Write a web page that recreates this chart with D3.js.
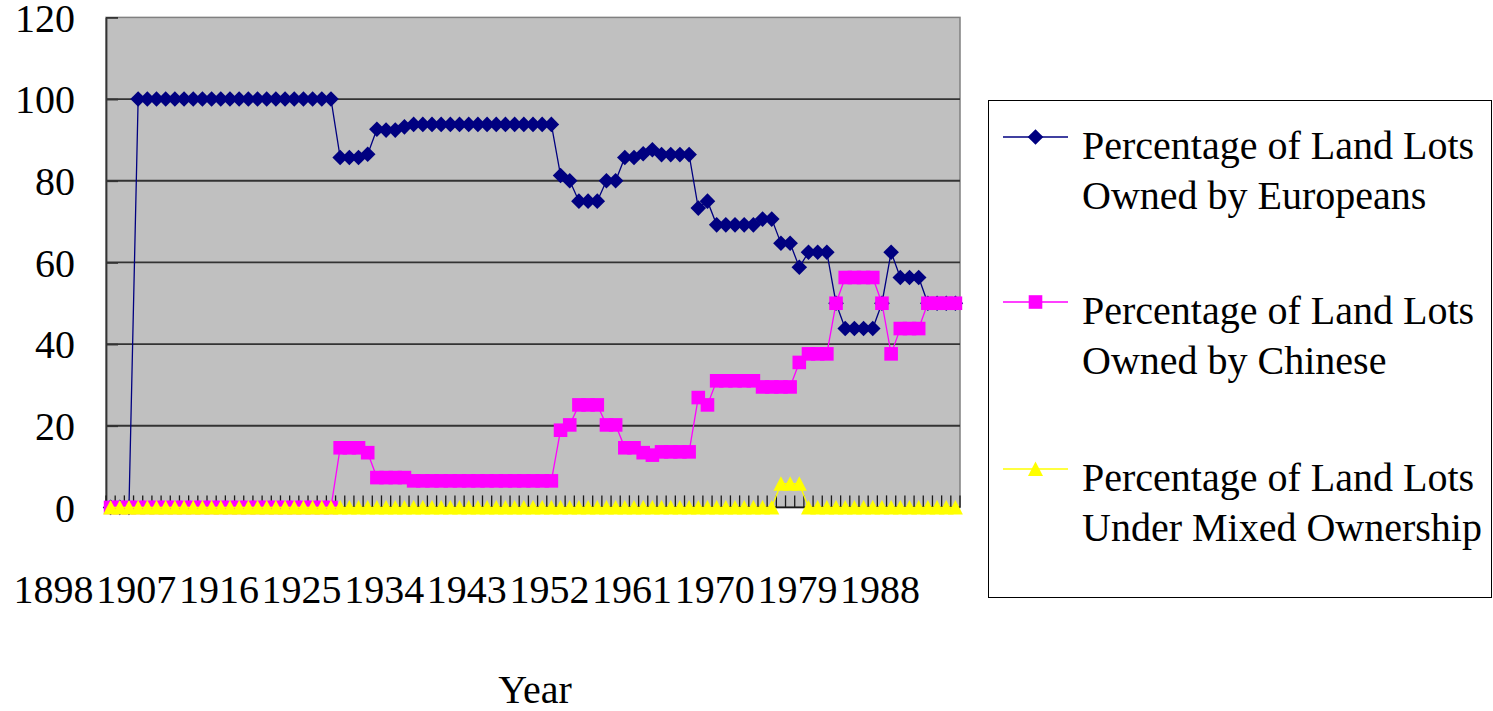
<!DOCTYPE html>
<html>
<head>
<meta charset="utf-8">
<script src="https://cdn.jsdelivr.net/npm/d3@7/dist/d3.min.js"></script>
<style>
  html, body { margin: 0; padding: 0; background: #fff; }
  svg { display: block; }
  text { font-family: "Liberation Serif", "Times New Roman", serif; fill: #000; }
</style>
</head>
<body>
<svg id="chart" width="1493" height="711"></svg>
<script>
// ---- data ----
const years = [1898,1899,1900,1901,1902,1903,1904,1905,1906,1907,1908,1909,1910,1911,1912,1913,1914,1915,1916,1917,1918,1919,1920,1921,1922,1923,1924,1925,1926,1927,1928,1929,1930,1931,1932,1933,1934,1935,1936,1937,1938,1939,1940,1941,1942,1943,1944,1945,1946,1947,1948,1949,1950,1951,1952,1953,1954,1955,1956,1957,1958,1959,1960,1961,1962,1963,1964,1965,1966,1967,1968,1969,1970,1971,1972,1973,1974,1975,1976,1977,1978,1979,1980,1981,1982,1983,1984,1985,1986,1987,1988,1989,1990];

const europeans = [0,0,0,
  100,100,100,100,100,100,100,100,100,100,100,100,100,100,100,100,100,100,100,100,100,100,
  85.7,85.7,85.7,86.5,
  92.6,92.4,92.4,93.2,
  93.8,93.8,93.8,93.8,93.8,93.8,93.8,93.8,93.8,93.8,93.8,93.8,93.8,93.8,93.8,93.8,
  81.3,80,75,75,75,80,80,85.7,85.7,86.6,87.6,86.4,86.4,86.4,86.4,
  73.3,75,69.2,69.2,69.2,69.2,69.2,70.6,70.6,64.7,64.7,58.8,62.5,62.5,62.5,
  50,43.8,43.8,43.8,43.8,50,62.5,56.3,56.3,56.3,50,50,50,50];

const chinese = [0,0,0,0,0,0,0,0,0,0,0,0,0,0,0,0,0,0,0,0,0,0,0,0,0,
  14.6,14.6,14.6,13.4,
  7.3,7.3,7.3,7.3,
  6.5,6.5,6.5,6.5,6.5,6.5,6.5,6.5,6.5,6.5,6.5,6.5,6.5,6.5,6.5,6.5,
  18.9,20.2,25.1,25.1,25.1,20.2,20.2,14.6,14.6,13.4,12.8,13.6,13.6,13.6,13.6,
  26.9,25.1,31,31,31,31,31,29.5,29.5,29.5,29.5,35.5,37.6,37.6,37.6,
  50,56.3,56.3,56.3,56.3,50,37.6,43.8,43.8,43.8,50,50,50,50];

const mixed = [0,0,0,0,0,0,0,0,0,0,0,0,0,0,0,0,0,0,0,0,0,0,0,0,0,
  0,0,0,0,0,0,0,0,0,0,0,0,0,0,0,0,0,0,0,0,0,0,0,0,
  0,0,0,0,0,0,0,0,0,0,0,0,0,0,0,
  0,0,0,0,0,0,0,0,0,5.8,5.8,5.8,0,0,0,
  0,0,0,0,0,0,0,0,0,0,0,0,0,0];

const yTicks = [0,20,40,60,80,100,120];
const xLabelYears = [1898,1907,1916,1925,1934,1943,1952,1961,1970,1979,1988];
const seriesNames = [
  ["Percentage of Land Lots", "Owned by Europeans"],
  ["Percentage of Land Lots", "Owned by Chinese"],
  ["Percentage of Land Lots", "Under Mixed Ownership"]
];
const seriesColors = ["#000080", "#FF00FF", "#FFFF00"];
const seriesMarkers = ["diamond", "square", "triangle"];

// ---- layout ----
const svg = d3.select("#chart");
const plot = { left: 106, right: 960, top: 17.4, bottom: 507.4 };
const FS = 40;

const x = d3.scaleBand().domain(years).range([plot.left, plot.right]).padding(0);
const y = d3.scaleLinear().domain([0, 120]).range([plot.bottom, plot.top]);
const cx = yr => x(yr) + x.bandwidth() / 2;

// plot background
svg.append("rect")
  .attr("x", plot.left).attr("y", plot.top)
  .attr("width", plot.right - plot.left).attr("height", plot.bottom - plot.top)
  .attr("fill", "#C0C0C0").attr("stroke", "#808080").attr("stroke-width", 1.5);

// gridlines
svg.append("g").selectAll("line").data(yTicks.filter(t => t > 0 && t < 120)).join("line")
  .attr("x1", plot.left).attr("x2", plot.right)
  .attr("y1", d => y(d)).attr("y2", d => y(d))
  .attr("stroke", "#333").attr("stroke-width", 1.8);

// y axis
const yAxis = d3.axisLeft(y).tickValues(yTicks).tickSizeInner(-12).tickSizeOuter(0).tickPadding(31);
const gy = svg.append("g").attr("transform", `translate(${plot.left},0)`).call(yAxis);
gy.select(".domain").attr("stroke", "#333").attr("stroke-width", 1.8);
gy.selectAll(".tick line").attr("stroke", "#333").attr("stroke-width", 1.8);
gy.selectAll(".tick text").attr("font-size", FS).attr("font-family", "Liberation Serif")
  .attr("dy", "0.34em");

// x axis: ticks at category boundaries (inside)
const boundaries = years.map(yr => x(yr)).concat([plot.right]);
svg.append("g").selectAll("line").data(boundaries).join("line")
  .attr("x1", d => d).attr("x2", d => d)
  .attr("y1", plot.bottom).attr("y2", plot.bottom - 12)
  .attr("stroke", "#1a1a1a").attr("stroke-width", 1.3);
svg.append("line")
  .attr("x1", plot.left).attr("x2", plot.right)
  .attr("y1", plot.bottom).attr("y2", plot.bottom)
  .attr("stroke", "#1a1a1a").attr("stroke-width", 1.6);

// x labels
const xAxis = d3.axisBottom(x).tickValues(xLabelYears).tickSize(0).tickPadding(0);
const gx = svg.append("g").attr("transform", `translate(0,${plot.bottom})`).call(xAxis);
gx.select(".domain").remove();
gx.selectAll(".tick text").attr("font-size", FS).attr("font-family", "Liberation Serif")
  .attr("dx", -57).attr("y", 96).attr("dy", 0);

// axis title
svg.append("text").attr("x", 535).attr("y", 703).attr("text-anchor", "middle")
  .attr("font-size", FS).text("Year");

// marker paths
function markerPath(type) {
  if (type === "diamond") return "M0,-7.8L7.8,0L0,7.8L-7.8,0Z";
  if (type === "square") return "M-6.8,-6.8H6.8V6.8H-6.8Z";
  return "M0,-7.5L7.5,7L-7.5,7Z";
}

const allSeries = [europeans, chinese, mixed];
const line = d3.line().x((d, i) => cx(years[i])).y(d => y(d));

allSeries.forEach((vals, si) => {
  const g = svg.append("g");
  g.append("path").datum(vals).attr("d", line)
    .attr("fill", "none").attr("stroke", seriesColors[si]).attr("stroke-width", 1.3);
  g.selectAll("path.m").data(vals).join("path").attr("class", "m")
    .attr("d", markerPath(seriesMarkers[si]))
    .attr("transform", (d, i) => `translate(${cx(years[i])},${y(d)})`)
    .attr("fill", seriesColors[si]);
});

// legend
const legend = svg.append("g");
legend.append("rect").attr("x", 988.5).attr("y", 100.5).attr("width", 503).attr("height", 497)
  .attr("fill", "#fff").attr("stroke", "#000").attr("stroke-width", 1);
const legendY = [137, 302, 469];
seriesNames.forEach((lines, si) => {
  const ly = legendY[si];
  legend.append("line").attr("x1", 1003).attr("x2", 1068).attr("y1", ly).attr("y2", ly)
    .attr("stroke", seriesColors[si]).attr("stroke-width", 1.3);
  legend.append("path").attr("d", markerPath(seriesMarkers[si]))
    .attr("transform", `translate(1035.5,${ly})`).attr("fill", seriesColors[si]);
  lines.forEach((t, li) => {
    legend.append("text").attr("x", 1082).attr("y", ly + 22 + li * 50)
      .attr("font-size", FS).text(t);
  });
});
</script>
</body>
</html>
